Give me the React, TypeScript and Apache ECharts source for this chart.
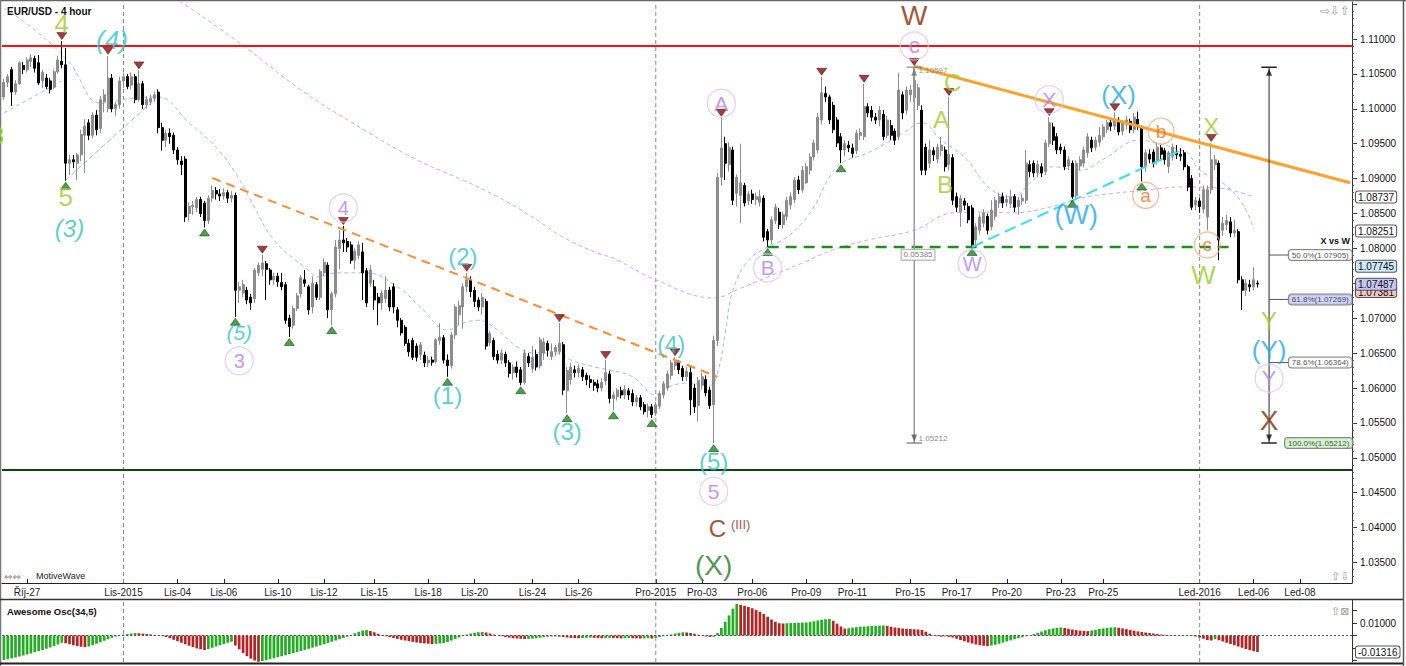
import React, { useEffect, useRef } from "react";
import * as echarts from "echarts";

const CATEGORY_COUNT = 350;

const xTickLabels: [number, string][] = [
  [6, "Říj-27"], [31, "Lis-2015"], [45, "Lis-04"], [57, "Lis-06"], [71, "Lis-10"], [83, "Lis-12"],
  [96, "Lis-15"], [110, "Lis-18"], [122, "Lis-20"], [137, "Lis-24"], [149, "Lis-26"], [169, "Pro-2015"],
  [181, "Pro-03"], [194, "Pro-06"], [208, "Pro-09"], [220, "Pro-11"], [235, "Pro-15"], [247, "Pro-17"],
  [260, "Pro-20"], [274, "Pro-23"], [285, "Pro-25"], [310, "Led-2016"], [324, "Led-06"], [336, "Led-08"],
];
const monthStartIdx = [31, 169, 310];
const priceTickLabels = [1.035, 1.04, 1.045, 1.05, 1.055, 1.06, 1.065, 1.07, 1.08, 1.085, 1.09, 1.095, 1.1, 1.105, 1.11];
const priceTicks = [1.035, 1.04, 1.045, 1.05, 1.055, 1.06, 1.065, 1.07, 1.075, 1.08, 1.085, 1.09, 1.095, 1.1, 1.105, 1.11, 1.115];
const aoTickLabels = [0.01];
const aoTicks = [-0.02, -0.01, 0, 0.01, 0.02];

// candles: [open, close, low, high] in 1e-4 units
const candles: number[][] = [
  [11017,11038,11013,11043],[11038,11046,11031,11050],[11056,11024,11004,11060],[11024,11036,11020,11041],[11036,11066,11034,11068],
  [11062,11056,11050,11067],[11056,11070,11052,11074],[11068,11073,11060,11078],[11072,11058,11052,11076],[11066,11037,11034,11077],
  [11040,11052,11030,11056],[11044,11032,11028,11050],[11040,11028,11022,11044],[11031,11053,11028,11056],[11053,11070,11050,11076],
  [11068,11063,11058,11097],[11063,10922,10897,11087],[10922,10927,10905,10934],[10927,10924,10915,10934],[10922,10934,10898,10937],
  [10934,10963,10925,10970],[10962,10975,10908,10985],[10980,10962,10955,10985],[10962,10991,10958,10995],[10991,10970,10962,10998],
  [10972,11013,10965,11018],[11010,11020,10995,11028],[11000,11044,10995,11076],[11044,11000,10995,11050],[11000,11006,10990,11010],
  [11006,11040,11000,11046],[11040,11046,11030,11052],[11046,11032,11028,11050],[11034,11046,11028,11052],[11046,11013,11008,11050],
  [11013,11036,11010,11055],[11036,11006,11000,11040],[11006,11013,11000,11018],[11010,11015,11005,11020],[11015,11020,11010,11025],
  [11024,10973,10965,11028],[10973,10955,10940,10980],[10955,10965,10945,10970],[10965,10960,10950,10972],[10962,10941,10935,10966],
  [10941,10927,10920,10945],[10925,10920,10905,10932],[10928,10845,10838,10932],[10850,10860,10840,10866],[10860,10862,10848,10868],
  [10858,10870,10852,10874],[10870,10850,10845,10874],[10865,10840,10830,10868],[10840,10872,10835,10876],[10872,10883,10866,10890],
  [10883,10878,10870,10888],[10878,10875,10868,10885],[10875,10880,10870,10886],[10880,10872,10865,10884],[10872,10876,10866,10882],
  [10876,10740,10702,10880],[10740,10745,10722,10752],[10736,10748,10730,10755],[10740,10726,10720,10745],[10730,10722,10712,10735],
  [10728,10769,10722,10772],[10765,10776,10760,10780],[10770,10779,10760,10791],[10778,10770,10726,10782],[10769,10755,10748,10772],
  [10755,10760,10748,10765],[10760,10752,10745,10765],[10751,10745,10740,10765],[10748,10697,10692,10752],[10700,10688,10673,10705],
  [10690,10714,10685,10718],[10714,10732,10710,10736],[10735,10758,10730,10762],[10755,10750,10745,10769],[10745,10712,10705,10748],
  [10716,10750,10707,10760],[10748,10730,10726,10752],[10730,10767,10726,10770],[10765,10780,10760,10786],[10776,10712,10700,10780],
  [10712,10735,10690,10738],[10735,10802,10730,10812],[10800,10812,10770,10826],[10812,10808,10795,10832],[10810,10802,10795,10815],
  [10805,10783,10778,10810],[10783,10796,10770,10800],[10790,10805,10785,10810],[10795,10765,10726,10808],[10768,10722,10716,10772],
  [10750,10769,10745,10776],[10745,10726,10712,10755],[10730,10722,10690,10736],[10722,10736,10712,10740],[10728,10740,10722,10760],
  [10740,10716,10710,10745],[10745,10716,10707,10750],[10712,10697,10687,10716],[10697,10679,10675,10700],[10687,10664,10660,10690],
  [10664,10652,10645,10670],[10668,10644,10640,10672],[10660,10644,10638,10664],[10648,10662,10640,10666],[10647,10636,10630,10652],
  [10636,10640,10630,10646],[10640,10637,10632,10645],[10638,10669,10635,10672],[10668,10673,10662,10693],[10672,10640,10635,10676],
  [10640,10632,10616,10648],[10632,10676,10628,10680],[10676,10716,10670,10720],[10705,10718,10690,10725],[10716,10745,10685,10750],
  [10745,10755,10738,10765],[10755,10738,10730,10760],[10740,10724,10716,10745],[10726,10716,10710,10730],[10716,10730,10705,10736],
  [10724,10660,10655,10728],[10665,10678,10660,10682],[10668,10645,10640,10672],[10648,10640,10635,10654],[10640,10650,10634,10655],
  [10648,10636,10630,10652],[10636,10621,10615,10640],[10622,10630,10612,10634],[10630,10622,10615,10638],[10626,10608,10604,10630],
  [10608,10650,10605,10655],[10645,10636,10630,10650],[10628,10644,10622,10660],[10648,10630,10625,10655],[10632,10669,10628,10673],
  [10650,10666,10640,10672],[10664,10654,10645,10668],[10645,10652,10640,10664],[10652,10658,10646,10662],[10652,10664,10648,10693],
  [10662,10597,10590,10666],[10596,10625,10564,10630],[10612,10630,10605,10636],[10626,10622,10615,10632],[10622,10628,10615,10634],
  [10626,10616,10610,10630],[10618,10612,10604,10622],[10612,10608,10600,10618],[10608,10604,10596,10612],[10606,10600,10594,10612],
  [10600,10608,10595,10614],[10610,10622,10604,10640],[10620,10585,10578,10625],[10585,10590,10568,10595],[10588,10597,10582,10600],
  [10596,10590,10585,10602],[10590,10598,10584,10604],[10596,10590,10583,10600],[10592,10580,10574,10598],[10580,10586,10574,10590],
  [10586,10573,10568,10590],[10576,10566,10562,10580],[10568,10573,10558,10578],[10573,10562,10557,10577],[10564,10576,10560,10580],
  [10574,10592,10570,10596],[10590,10606,10585,10610],[10600,10620,10596,10625],[10618,10636,10612,10640],[10632,10638,10626,10644],
  [10636,10626,10620,10640],[10628,10616,10610,10632],[10616,10624,10610,10630],[10622,10583,10561,10630],[10600,10573,10564,10606],
  [10575,10611,10552,10616],[10604,10616,10598,10622],[10612,10593,10588,10618],[10597,10575,10570,10602],[10576,10668,10521,10675],
  [10668,10902,10660,10908],[10902,10944,10890,10987],[10950,10922,10898,10960],[10920,10945,10910,10952],[10941,10869,10862,10946],
  [10879,10902,10860,10906],[10876,10894,10836,10950],[10890,10865,10860,10894],[10868,10878,10862,10882],[10878,10870,10864,10884],
  [10870,10874,10862,10880],[10866,10874,10860,10884],[10872,10816,10810,10876],[10824,10812,10802,10828],[10812,10841,10806,10846],
  [10840,10859,10835,10864],[10852,10834,10828,10858],[10834,10848,10828,10852],[10846,10869,10840,10874],[10862,10874,10856,10880],
  [10870,10898,10865,10902],[10898,10884,10878,10904],[10884,10912,10880,10918],[10894,10917,10892,10922],[10912,10931,10906,10936],
  [10931,10951,10926,10956],[10941,10988,10936,10994],[10984,11023,10978,11046],[11022,11017,11010,11032],[11017,10984,10978,11020],
  [11005,10970,10965,11010],[10984,10951,10945,10988],[10960,10941,10922,10965],[10941,10950,10932,10955],[10948,10944,10938,10954],
  [10944,10936,10930,10950],[10940,10965,10935,10970],[10962,10966,10955,10972],[10960,11003,10955,11036],[11003,10994,10988,11008],
  [10998,10988,10982,11004],[10988,10984,10978,10994],[10984,10998,10975,11004],[10992,10960,10955,10998],[10962,10984,10958,10990],
  [10976,10962,10955,10984],[10968,10955,10948,10972],[10960,11027,10955,11052],[11020,10994,10985,11025],[10998,11027,10992,11032],
  [11020,11027,11010,11034],[11016,11041,11010,11060],[11005,11030,10998,11036],[10998,10912,10905,11005],[10945,10912,10905,10950],
  [10922,10941,10915,10955],[10940,10934,10925,10945],[10928,10945,10922,10950],[10940,10948,10932,10960],[10941,10917,10910,10946],
  [10920,10935,10912,11017],[10930,10869,10862,10935],[10874,10859,10852,10880],[10852,10872,10831,10876],[10868,10862,10855,10872],
  [10860,10841,10836,10865],[10858,10805,10802,10862],[10812,10831,10802,10836],[10826,10845,10820,10850],[10836,10851,10830,10856],
  [10846,10826,10820,10850],[10831,10855,10826,10869],[10846,10869,10840,10874],[10865,10874,10858,10880],[10874,10865,10858,10880],
  [10866,10870,10860,10876],[10864,10874,10858,10884],[10874,10859,10852,10878],[10860,10869,10848,10874],[10868,10872,10862,10878],
  [10869,10922,10864,10941],[10920,10910,10902,10926],[10922,10908,10902,10926],[10908,10920,10902,10926],[10917,10908,10902,10922],
  [10910,10951,10905,10956],[10950,10980,10945,10988],[10974,10955,10948,10980],[10960,10941,10935,10965],[10945,10941,10935,10950],
  [10941,10917,10912,10946],[10918,10927,10912,10932],[10922,10874,10871,10926],[10876,10922,10872,10926],[10918,10927,10912,10932],
  [10922,10941,10916,10946],[10937,10960,10930,10965],[10955,10944,10938,10960],[10945,10955,10940,10960],[10952,10962,10946,10974],
  [10960,10974,10955,10978],[10970,10980,10965,10984],[10980,10975,10968,10986],[10975,10984,10970,10995],[10984,10967,10962,10988],
  [10968,10980,10962,10984],[10978,10984,10970,10990],[10982,10970,10965,10986],[10970,10988,10965,10994],[10985,10978,10970,10996],
  [10972,10917,10896,10976],[10917,10937,10910,10942],[10935,10928,10922,10942],[10938,10922,10916,10942],[10926,10945,10920,10952],
  [10944,10935,10928,10948],[10940,10927,10920,10944],[10917,10937,10908,10940],[10932,10945,10926,10950],[10938,10934,10928,10948],
  [10935,10932,10925,10944],[10937,10917,10912,10941],[10917,10888,10882,10920],[10900,10859,10855,10905],[10862,10869,10855,10874],
  [10868,10860,10851,10872],[10856,10884,10850,10890],[10845,10884,10826,10890],[10884,10927,10878,10951],[10920,10927,10912,10934],
  [10922,10812,10783,10926],[10826,10836,10818,10845],[10834,10840,10826,10848],[10838,10822,10816,10845],[10822,10826,10816,10841],
  [10824,10755,10750,10828],[10755,10740,10712,10760],[10740,10750,10732,10756],[10748,10745,10738,10755],[10745,10755,10740,10773],
  [10750,10749,10744,10754],
];

// Awesome oscillator values, 1e-4 units
const aoValues: number[] = [
  -196,-190,-183,-176,-168,-160,-152,-143,-134,-125,-116,-106,-96,-85,-72,-58,
  -62,-70,-78,-85,-90,-93,
  -88,-78,-66,-54,-42,-30,-18,-8,-2,
  6,12,16,20,18,15,
  12,9,5,2,-4,
  -12,-22,-34,-46,-58,-70,-82,-93,-103,-110,-116,
  -108,-98,-88,-78,-68,-58,-50,
  -80,-110,-140,-165,-185,-200,-210,
  -205,-198,-190,-182,-174,-166,-158,-150,-142,-133,-124,-115,-106,-97,-88,-79,-70,-60,-50,-40,-30,-20,
  -10,5,18,30,40,44,
  36,26,14,4,
  -6,-13,-20,-27,-34,-40,-46,-51,-56,-60,-63,-66,-68,-67,-64,-60,
  -52,-40,-28,-16,-4,8,
  16,22,26,28,24,16,
  8,0,-6,-12,-17,-21,-24,-26,-28,
  -27,-25,-22,-18,-14,
  -10,-8,-7,-9,-12,
  -16,-19,-21,-22,-20,-18,-17,-19,-21,-22,-21,-19,-20,-22,-23,-22,-21,-22,-23,-24,-23,-22,-24,
  -18,-12,-6,0,
  8,16,22,26,24,20,14,6,
  -2,-8,-12,
  -10,20,60,110,160,215,252,
  246,238,228,218,205,190,172,150,128,110,98,
  96,
  98,100,101,102,103,104,108,114,120,126,130,132,
  118,95,72,55,
  58,63,67,70,72,74,76,77,79,80,
  76,70,64,60,56,54,52,50,48,44,
  30,14,2,
  -6,-10,-8,-12,-16,
  -26,-36,-46,-56,-64,-72,-78,-82,-84,
  -80,-74,-66,-57,-48,-39,-30,-22,-14,-6,2,
  12,22,32,42,50,57,62,65,
  60,54,48,43,39,36,35,
  40,46,52,57,61,64,66,
  62,57,51,45,39,33,28,24,20,
  16,12,8,5,3,2,1,3,2,-1,-4,-8,
  -16,-26,-36,-40,
  -30,
  -38,-48,-58,-68,-78,-88,-98,-108,-118,-126,-132,
];

// moving averages: [index, price 1e-4]
const blueMA: number[][] = [
  [0,11144],[8,11113],[17,11066],[25,11008],[33,11015],[40,11017],[48,10980],[55,10945],[60,10908],[64,10869],
  [70,10812],[78,10773],[82,10759],[86,10765],[94,10765],[102,10745],[108,10716],[115,10683],[119,10693],[123,10697],
  [128,10683],[133,10659],[138,10650],[144,10650],[147,10640],[154,10629],[157,10626],[163,10616],[169,10590],[172,10601],
  [177,10607],[183,10604],[185,10621],[187,10679],[189,10740],[193,10783],[198,10802],[203,10816],[209,10851],[214,10902],
  [217,10922],[224,10937],[230,10955],[233,10965],[238,10980],[243,10955],[249,10931],[256,10884],[262,10874],[266,10894],
  [272,10917],[279,10912],[286,10931],[294,10955],[299,10951],[305,10941],[307,10937],[310,10912],[316,10894],[321,10865],
  [324,10828],
];
const purpleMA: number[][] = [
  [44,11160],[60,11099],[77,11027],[90,10981],[107,10927],[119,10898],[128,10874],[137,10845],[145,10816],[154,10793],
  [158,10786],[169,10755],[184,10729],[191,10743],[198,10759],[207,10779],[215,10798],[224,10812],[236,10826],[246,10851],
  [254,10852],[262,10851],[271,10859],[279,10872],[288,10879],[297,10884],[305,10888],[314,10887],[324,10874],
];

const swingHighs: number[][] = [
  [15,11097],[27,11076],[35,11055],[67,10791],[88,10832],[120,10765],[144,10693],[156,10640],[174,10644],
  [186,10987],[212,11046],[223,11036],[236,11060],[245,11017],[271,10988],[288,10995],[313,10951],
];
const swingLows: number[][] = [
  [16,10897],[52,10830],[60,10702],[74,10673],[85,10690],[115,10616],[134,10604],[146,10564],[158,10568],
  [168,10557],[184,10521],[198,10802],[217,10922],[251,10802],[277,10871],[295,10896],
];

// wave labels: text, index, price(1e-4), style, font size
const waveLabels: [string, number, number, string, number][] = [
  ["4", 15, 11121, "g", 26], ["5", 16, 10874, "g", 26], ["(3)", 17, 10829, "cy", 24], ["(4)", 28, 11099, "cy", 26],
  ["(5)", 61, 10680, "cy", 21], ["3", 61, 10639, "pc", 20], ["4", 88, 10858, "pc", 20],
  ["(1)", 115, 10589, "cu", 24], ["(2)", 119, 10789, "cu", 24], ["(3)", 146, 10537, "cu", 24], ["(4)", 173, 10662, "cu", 23],
  ["(5)", 184, 10494, "cu", 24], ["5", 184, 10452, "pc", 21], ["C", 185, 10399, "br", 24], ["(III)", 191, 10404, "br", 13],
  ["(X)", 184, 10346, "dg", 28], ["A", 186, 11008, "pc", 21], ["B", 198, 10772, "pc", 21],
  ["W", 236, 11133, "br", 28], ["c", 236, 11090, "pc", 22], ["C", 246, 11038, "g", 24], ["A", 243, 10984, "g", 24],
  ["B", 244, 10891, "g", 24], ["W", 251, 10778, "pc", 20], ["X", 271, 11013, "pc", 21], ["(W)", 278, 10848, "sb", 27],
  ["(X)", 289, 11020, "sb", 26], ["b", 300, 10968, "oc", 19], ["a", 296, 10876, "oc", 19], ["X", 313, 10974, "g", 24],
  ["c", 312, 10805, "oc", 19], ["W", 311, 10762, "g", 26], ["Y", 328, 10697, "g", 24], ["(Y)", 328, 10654, "sb", 26],
  ["Y", 328, 10614, "pc", 22], ["X", 328, 10554, "br", 28],
];

const fibHigh = 1.10597;
const fibLow = 1.05212;
const fibLevels: [number, number, string][] = [
  [50.0, 1.07905, "#ffffff"], [61.8, 1.07269, "#c3c9f6"], [78.6, 1.06364, "#ffffff"], [100.0, 1.05212, "#c9f0c2"],
];
const resistanceLevel = 1.109;
const supportLevel = 1.0483;
const priceTags: [number, string][] = [
  [1.08737, "#ffffff"], [1.08251, "#ffffff"], [1.07745, "#cde8f7"], [1.07381, "#f6c6c2"],
];
const lastPriceTag: [number, string] = [1.07487, "#c6c6f2"];
const aoTag = -0.01316;

const FONT = '"Liberation Sans", Arial, sans-serif';
const Y_MIN = 1.032063;
const Y_MAX = 1.115301;
const AO_MIN = -0.0212;
const AO_MAX = 0.0284;

const styleMap: Record<string, any> = {
  g: { color: "#9acd1e" },
  cy: { color: "#2cc5c8", italic: true },
  cu: { color: "#2cc5c8" },
  pc: { color: "#b27cf8", circle: "#dcc2ff", size: 28 },
  oc: { color: "#ff6d1a", circle: "#ffa66e", size: 26 },
  br: { color: "#8b2a00" },
  dg: { color: "#1d7d1d" },
  sb: { color: "#19a8ee" },
};

const toP = (v: number) => v / 10000;

function seg(pts: number[][], color: string, width: number, type: any, z = 4, smooth: any = false, xi = 0, yi = 0) {
  return {
    type: "line", xAxisIndex: xi, yAxisIndex: yi, data: pts, symbol: "none", smooth,
    lineStyle: { color, width, type }, silent: true, z, animation: false,
  };
}

function tagAxis(values: number[], rich: Record<string, any>, keyOf: (v: number) => string, gridIndex = 0, min = Y_MIN, max = Y_MAX) {
  return {
    type: "value", gridIndex, position: "right", min, max, scale: true,
    axisLine: { show: false }, axisTick: { show: false }, splitLine: { show: false },
    axisLabel: {
      show: true, customValues: values, margin: 4, hideOverlap: false,
      formatter: (v: number) => `{${keyOf(v)}|${v.toFixed(5)}}`,
      rich,
    },
  };
}

function boxStyle(bg: string) {
  return {
    backgroundColor: bg, borderColor: "#555", borderWidth: 1, borderRadius: 2,
    padding: [1, 2, 0, 2], fontSize: 10, color: "#111", fontFamily: FONT,
  };
}

function buildOption() {
  const labelMap = new Map<number, string>(xTickLabels.map(([i, s]) => [i, s] as [number, string]));
  const cats = Array.from({ length: CATEGORY_COUNT }, (_, i) => labelMap.get(i) ?? String(i));
  const showIdx = (i: number) => labelMap.has(i);

  const minorTicks: number[] = [];
  for (let k = 1033; k <= 1115; k++) minorTicks.push(k / 1000);

  const series: any[] = [];

  series.push({
    type: "candlestick", xAxisIndex: 0, yAxisIndex: 0, z: 3,
    data: candles.map((c) => c.map(toP)),
    barWidth: 2.6,
    itemStyle: { color: "#8c8c8c", color0: "#000000", borderColor: "#8c8c8c", borderColor0: "#000000", borderWidth: 1 },
    markLine: {
      silent: true, symbol: ["none", "none"], label: { show: false }, animation: false, precision: 6,
      data: [
        { yAxis: resistanceLevel, lineStyle: { color: "#ff1010", width: 2, type: "solid" } },
        { yAxis: supportLevel, lineStyle: { color: "#0b4a0b", width: 2, type: "solid" } },
      ],
    },
  });

  // month separators
  monthStartIdx.forEach((i) => {
    series.push(seg([[i, Y_MIN], [i, Y_MAX]], "#8a8a8a", 1, [4, 3], 1));
    series.push(seg([[i, AO_MIN], [i, AO_MAX]], "#8a8a8a", 1, [4, 3], 1, false, 1, 1));
  });

  // moving averages
  series.push(seg(purpleMA.map(([i, p]) => [i, toP(p)]), "#d6a6e6", 1, [4, 3], 2, 0.4));
  series.push(seg(blueMA.map(([i, p]) => [i, toP(p)]), "#a9b9f6", 1, [4, 3], 2, 0.4));

  // trend lines
  series.push(seg([[0, 1.0994], [15, 1.104]], "#a9b9f6", 1, [4, 3], 2));
  series.push(seg([[16, 1.0898], [39, 1.1013]], "#8fcaa9", 1, [5, 3], 2));
  series.push(seg([[54, 1.0901], [185, 1.0616]], "#ff8a30", 2, [9, 6], 4));
  series.push(seg([[236, 1.1061], [349, 1.0894]], "#ffa12a", 3, "solid", 4));
  series.push(seg([[198, 1.0802], [319, 1.0802]], "#1f8f1f", 2.5, [11, 7], 4));
  series.push(seg([[251, 1.0802], [305, 1.094]], "#33e2f2", 2, [12, 6], 4));

  // fib tool 1 (gray)
  series.push(seg([[236, fibHigh], [236, fibLow]], "#9a9a9a", 1.5, "solid", 4));
  series.push(seg([[234, fibHigh], [238, fibHigh]], "#777", 1, "solid", 4));
  series.push(seg([[234, fibLow], [238, fibLow]], "#555", 1, "solid", 4));
  // fib tool 2 (black)
  series.push(seg([[328, fibHigh], [328, fibLow]], "#222", 1, "solid", 5));
  series.push(seg([[326, fibHigh], [330, fibHigh]], "#222", 1.5, "solid", 5));
  series.push(seg([[326, fibLow], [330, fibLow]], "#222", 1.5, "solid", 5));
  fibLevels.forEach(([lv, p]) => {
    if (lv < 100) series.push(seg([[328, p], [333, p]], "#555", 1, "solid", 5));
  });

  // arrow heads
  series.push({
    type: "scatter", z: 6, silent: true,
    data: [
      { value: [328, fibHigh], symbol: "path://M5 0L10 8L0 8Z", symbolOffset: [0, 5], itemStyle: { color: "#111" } },
      { value: [328, fibLow], symbol: "path://M0 0L10 0L5 8Z", symbolOffset: [0, -5], itemStyle: { color: "#111" } },
      { value: [236, fibLow], symbol: "path://M0 0L10 0L5 8Z", symbolOffset: [0, -5], itemStyle: { color: "#555" } },
      { value: [236, fibHigh], symbol: "path://M5 0L10 8L0 8Z", symbolOffset: [0, 5], itemStyle: { color: "#777" } },
    ],
    symbolSize: [6, 7],
  });

  // swing markers
  series.push({
    type: "scatter", z: 7, silent: true,
    data: swingHighs.map(([i, p]) => [i, toP(p)]),
    symbol: "path://M0 0L10 0L5 7Z", symbolSize: [10, 7], symbolOffset: [0, -5],
    itemStyle: { color: "#8e0b0b", borderColor: "#3a0000", borderWidth: 0.6 },
  });
  series.push({
    type: "scatter", z: 7, silent: true,
    data: swingLows.map(([i, p]) => [i, toP(p)]),
    symbol: "path://M5 0L10 7L0 7Z", symbolSize: [10, 7], symbolOffset: [0, 5],
    itemStyle: { color: "#1b8a1b", borderColor: "#063006", borderWidth: 0.6 },
  });

  // wave labels
  series.push({
    type: "scatter", z: 8, silent: true,
    data: waveLabels.map(([t, i, p, s, fs]) => {
      const st = styleMap[s];
      return {
        value: [i, toP(p)],
        symbol: "circle",
        symbolSize: st.circle ? st.size : 1,
        itemStyle: st.circle
          ? { color: "rgba(255,255,255,0)", borderColor: st.circle, borderWidth: 1.2 }
          : { color: "rgba(0,0,0,0)" },
        label: {
          show: true, position: "inside", formatter: t, color: st.color, fontSize: fs,
          fontStyle: st.italic ? "italic" : "normal", fontFamily: FONT,
        },
      };
    }),
  });

  // fib labels
  const fibLabelItems: any[] = fibLevels.map(([lv, p, bg]) => ({
    value: [lv === 100 ? 332 : 333, p],
    label: {
      show: true, position: "right", distance: 0,
      formatter: `${lv.toFixed(1)}%(${p.toFixed(5)})`,
      backgroundColor: bg, borderColor: "#6a6a6a", borderWidth: 1, borderRadius: 3,
      padding: [1, 3, 1, 3], fontSize: 8, color: "#222", fontFamily: FONT,
    },
  }));
  fibLabelItems.push({
    value: [237, 1.1055],
    label: { show: true, position: "right", distance: 0, formatter: fibHigh.toFixed(5), fontSize: 8, color: "#777", fontFamily: FONT },
  });
  fibLabelItems.push({
    value: [237, 1.0527],
    label: { show: true, position: "right", distance: 0, formatter: fibLow.toFixed(5), fontSize: 8, color: "#666", fontFamily: FONT },
  });
  fibLabelItems.push({
    value: [237, 1.0791],
    label: {
      show: true, position: "inside", formatter: (fibHigh - fibLow).toFixed(5), fontSize: 8, color: "#555",
      backgroundColor: "#ffffff", borderColor: "#999", borderWidth: 1, padding: [1, 2, 1, 2], fontFamily: FONT,
    },
  });
  series.push({
    type: "scatter", z: 9, silent: true, symbolSize: 1,
    itemStyle: { color: "rgba(0,0,0,0)" },
    data: fibLabelItems,
  });

  // awesome oscillator
  series.push({
    type: "bar", xAxisIndex: 1, yAxisIndex: 1, barWidth: 2.7, z: 3,
    data: aoValues.map((v, i) => ({
      value: v / 10000,
      itemStyle: { color: i === 0 || v > aoValues[i - 1] ? "#22ad22" : "#b32525" },
    })),
    markLine: {
      silent: true, symbol: ["none", "none"], label: { show: false }, animation: false, precision: 6,
      data: [{ yAxis: 0, lineStyle: { color: "#555", width: 1, type: [2, 2] } }],
    },
  });

  const tagRich: Record<string, any> = {};
  priceTags.forEach(([, bg], k) => {
    tagRich["t" + k] = boxStyle(bg);
  });
  const keyOfTag = (v: number) => {
    const k = priceTags.findIndex((t) => Math.abs(t[0] - v) < 1e-7);
    return "t" + (k < 0 ? 0 : k);
  };

  return {
    animation: false,
    backgroundColor: "#ffffff",
    textStyle: { fontFamily: FONT },
    grid: [
      { left: 2, top: 2, width: 1350, height: 581 },
      { left: 2, top: 600, width: 1350, height: 62 },
    ],
    xAxis: [
      {
        type: "category", gridIndex: 0, data: cats, boundaryGap: true,
        axisLine: { show: true, lineStyle: { color: "#222", width: 1 } },
        axisTick: { show: true, interval: showIdx, alignWithLabel: true, inside: true, length: 4, lineStyle: { color: "#222" } },
        axisLabel: {
          show: true, interval: showIdx, formatter: (_v: string, i: number) => labelMap.get(i) ?? "",
          fontSize: 10, color: "#222", margin: 4, fontFamily: FONT,
        },
        splitLine: { show: false },
      },
      {
        type: "category", gridIndex: 1, data: cats, boundaryGap: true,
        axisLine: { show: false }, axisTick: { show: false }, axisLabel: { show: false }, splitLine: { show: false },
      },
    ],
    yAxis: [
      {
        type: "value", gridIndex: 0, position: "right", min: Y_MIN, max: Y_MAX, scale: true,
        axisLine: { show: true, onZero: false, lineStyle: { color: "#333" } },
        axisTick: { show: true, customValues: priceTicks, length: 5, lineStyle: { color: "#333" } },
        axisLabel: {
          show: true, customValues: priceTickLabels, formatter: (v: number) => v.toFixed(5),
          fontSize: 10, color: "#111", margin: 8, fontFamily: FONT,
        },
        splitLine: { show: false },
      },
      {
        type: "value", gridIndex: 1, position: "right", min: AO_MIN, max: AO_MAX, scale: true,
        axisLine: { show: true, onZero: false, lineStyle: { color: "#333" } },
        axisTick: { show: true, customValues: aoTicks, length: 5, lineStyle: { color: "#333" } },
        axisLabel: {
          show: true, customValues: aoTickLabels, formatter: (v: number) => v.toFixed(5),
          fontSize: 10, color: "#111", margin: 8, fontFamily: FONT,
        },
        splitLine: { show: false },
      },
      tagAxis(priceTags.map((t) => t[0]), tagRich, keyOfTag),
      {
        type: "value", gridIndex: 0, position: "right", min: Y_MIN, max: Y_MAX, scale: true,
        axisLine: { show: false }, axisLabel: { show: false }, splitLine: { show: false },
        axisTick: { show: true, customValues: minorTicks, length: 2, lineStyle: { color: "#555" } },
      },
      tagAxis([aoTag], { a: boxStyle("#ffffff") }, () => "a", 1, AO_MIN, AO_MAX),
      tagAxis([lastPriceTag[0]], { l: boxStyle(lastPriceTag[1]) }, () => "l"),
    ],
    series,
    graphic: [
      { type: "line", shape: { x1: 0, y1: 0.5, x2: 1406, y2: 0.5 }, style: { stroke: "#666", lineWidth: 1.5 }, silent: true },
      { type: "line", shape: { x1: 0.5, y1: 0, x2: 0.5, y2: 666 }, style: { stroke: "#777", lineWidth: 1.5 }, silent: true },
      { type: "line", shape: { x1: 0, y1: 599.5, x2: 1404, y2: 599.5 }, style: { stroke: "#333", lineWidth: 1.5 }, silent: true },
      { type: "line", shape: { x1: 0, y1: 663.5, x2: 1404, y2: 663.5 }, style: { stroke: "#222", lineWidth: 2 }, silent: true },
      { type: "line", shape: { x1: 1403.5, y1: 0, x2: 1403.5, y2: 666 }, style: { stroke: "#555", lineWidth: 1.5 }, silent: true },
      { type: "text", x: 7, y: 11, style: { text: "EUR/USD - 4 hour", font: `bold 10px ${FONT}`, fill: "#111", textVerticalAlign: "middle" }, silent: true },
      { type: "text", x: 4, y: 135, style: { text: "3", font: `24px ${FONT}`, fill: "#9acd1e", textAlign: "right", textVerticalAlign: "middle" }, silent: true },
      { type: "text", x: 1320, y: 11, style: { text: "⇨⇩⇧", font: `12px "DejaVu Sans"`, fill: "#9a9a9a", textVerticalAlign: "middle" }, silent: true },
      { type: "text", x: 4, y: 576, style: { text: "⇔⇔", font: `10px "DejaVu Sans"`, fill: "#888", textVerticalAlign: "middle" }, silent: true },
      { type: "text", x: 36, y: 576, style: { text: "MotiveWave", font: `9px ${FONT}`, fill: "#222", textVerticalAlign: "middle" }, silent: true },
      { type: "text", x: 1331, y: 576, style: { text: "⇧⇩", font: `11px "DejaVu Sans"`, fill: "#9a9a9a", textVerticalAlign: "middle" }, silent: true },
      { type: "text", x: 7, y: 611, style: { text: "Awesome Osc(34,5)", font: `bold 9.5px ${FONT}`, fill: "#111", textVerticalAlign: "middle" }, silent: true },
      { type: "text", x: 1331, y: 611, style: { text: "⇧⊠", font: `11px "DejaVu Sans"`, fill: "#9a9a9a", textVerticalAlign: "middle" }, silent: true },
      { type: "text", x: 1350, y: 241, style: { text: "X vs W", font: `bold 9px ${FONT}`, fill: "#111", textAlign: "right", textVerticalAlign: "middle" }, silent: true },
    ],
  };
}

export default function App() {
  const ref = useRef<HTMLDivElement>(null);
  useEffect(() => {
    if (!ref.current) return;
    const chart = echarts.init(ref.current, undefined, { renderer: "svg" });
    chart.setOption(buildOption() as any);
    return () => chart.dispose();
  }, []);
  return (
    <div
      ref={ref}
      style={{ position: "fixed", left: 0, top: 0, width: 1406, height: 666, background: "#ffffff" }}
    />
  );
}
